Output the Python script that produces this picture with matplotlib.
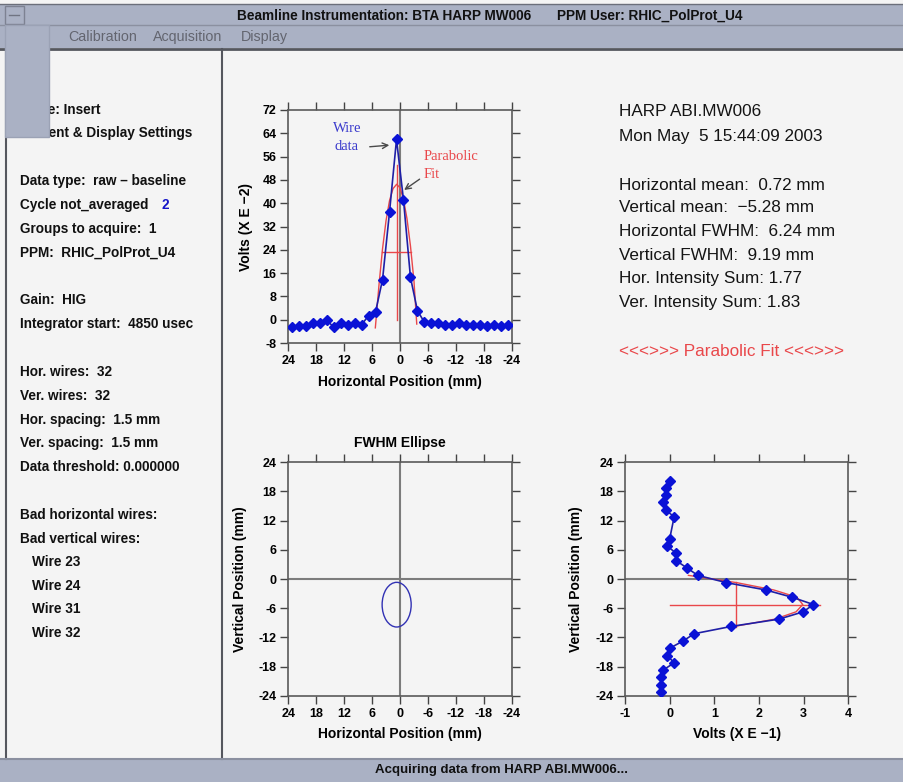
import matplotlib
matplotlib.use('Agg')
import matplotlib.pyplot as plt
from matplotlib.patches import Rectangle, Ellipse

plt.rcParams['font.family'] = ['Liberation Sans', 'DejaVu Sans']
plt.rcParams['axes.unicode_minus'] = False

# ---------------- data ----------------
# horizontal wire positions (mm) and signal (Volts x E-2)
h_pos = [23.25, 21.75, 20.25, 18.75, 17.25, 15.75, 14.25, 12.75, 11.25, 9.75,
         8.25, 6.75, 5.25, 3.75, 2.25, 0.75, -0.75, -2.25, -3.75, -5.25,
         -6.75, -8.25, -9.75, -11.25, -12.75, -14.25, -15.75, -17.25, -18.75,
         -20.25, -21.75, -23.25]
h_volts = [-2.6, -2.1, -2.1, -1.1, -1.1, -0.1, -2.6, -1.1, -1.7, -1.1,
           -1.7, 1.4, 2.7, 13.8, 37.0, 61.9, 41.1, 14.5, 3.1, -0.9,
           -1.1, -1.1, -1.7, -1.7, -1.1, -1.7, -1.7, -1.7, -2.1,
           -1.7, -2.1, -1.7]
# parabolic fit (horizontal)
h_fit_pos = [5.3, 4.5, 3.75, 3.0, 2.25, 1.5, 0.72, 0.0, -0.75, -1.5, -2.25, -3.0, -3.6]
h_fit_volts = [-2.8, 12.2, 24.4, 34.0, 40.9, 45.0, 46.5, 45.3, 41.3, 34.7, 25.3, 13.3, -1.5]
h_mean = 0.72
h_fwhm = 6.24
h_peak = 46.5
h_mean_line_top = 53.0

# vertical wire positions (mm) and signal (Volts x E-1); bad wires 23,24,31,32 omitted
v_pos = [20.25, 18.75, 17.25, 15.75, 14.25, 12.75, 8.25, 6.75, 5.25, 3.75,
         2.25, 0.75, -0.75, -2.25, -3.75, -5.25, -6.75, -8.25, -9.75, -11.25,
         -12.75, -14.25, -15.75, -17.25, -18.75, -20.25, -21.75, -23.25]
v_volts = [0.0, -0.09, -0.09, -0.15, -0.09, 0.10, 0.0, -0.05, 0.15, 0.15,
           0.39, 0.63, 1.27, 2.15, 2.74, 3.22, 2.99, 2.45, 1.38, 0.55,
           0.30, 0.0, -0.05, 0.10, -0.15, -0.20, -0.20, -0.20]
v_fit_pos = [0.75, -0.75, -2.25, -3.75, -5.25, -6.75, -8.25, -9.75]
v_fit_volts = [0.42, 1.50, 2.33, 2.85, 2.98, 2.83, 2.36, 1.45]
v_mean = -5.28
v_fwhm = 9.19
v_peak = 2.98
v_mean_line_end = 3.37

h_ticks = [24, 18, 12, 6, 0, -6, -12, -18, -24]
top_yticks = [-8, 0, 8, 16, 24, 32, 40, 48, 56, 64, 72]
pos_ticks = [-24, -18, -12, -6, 0, 6, 12, 18, 24]
volt_ticks = [-1, 0, 1, 2, 3, 4]

left_lines = [
    (110, "Mode: Insert"),
    (133, "Current & Display Settings"),
    (181, "Data type:  raw \u2013 baseline"),
    (205, "Cycle not_averaged"),
    (229, "Groups to acquire:  1"),
    (253, "PPM:  RHIC_PolProt_U4"),
    (300, "Gain:  HIG"),
    (324, "Integrator start:  4850 usec"),
    (372, "Hor. wires:  32"),
    (396, "Ver. wires:  32"),
    (420, "Hor. spacing:  1.5 mm"),
    (443, "Ver. spacing:  1.5 mm"),
    (467, "Data threshold: 0.000000"),
    (515, "Bad horizontal wires:"),
    (539, "Bad vertical wires:"),
]
bad_wires = ["Wire 23", "Wire 24", "Wire 31", "Wire 32"]
right_lines = [
    (112, "HARP ABI.MW006"),
    (137, "Mon May  5 15:44:09 2003"),
    (185, "Horizontal mean:  0.72 mm"),
    (208, "Vertical mean:  \u22125.28 mm"),
    (232, "Horizontal FWHM:  6.24 mm"),
    (256, "Vertical FWHM:  9.19 mm"),
    (279, "Hor. Intensity Sum: 1.77"),
    (303, "Ver. Intensity Sum: 1.83"),
]

# ---------------- figure ----------------
W, H = 904, 782
BG = '#f4f4f4'
BAR = '#aab1c4'
DARK = '#55575e'
BLUE_M = '#0a12d6'
BLUE_L = '#1f1fa6'
RED = '#e9474a'
GRAY = '#7c7c7c'
LABEL_FS = 10

fig = plt.figure(figsize=(W / 100, H / 100), dpi=100, facecolor=BG)
bg = fig.add_axes([0, 0, 1, 1], zorder=-5)
bg.set_xlim(0, W)
bg.set_ylim(H, 0)
bg.axis('off')

# title bar + menu bar
bg.add_patch(Rectangle((0, 4), W, 44, facecolor=BAR, edgecolor='none'))
bg.plot([0, W], [4, 4], color='#6b6f7a', lw=1)
bg.plot([0, W], [25, 25], color='#8b90a0', lw=1)
bg.plot([0, W], [49, 49], color=DARK, lw=2)
bg.add_patch(Rectangle((5, 6), 19, 18, facecolor=BAR, edgecolor='#7d8292', lw=1))
bg.plot([9, 19], [15, 15], color='#707482', lw=1)
bg.text(237, 15.5, "Beamline Instrumentation: BTA HARP MW006", fontsize=9.8,
        fontweight='bold', ha='left', va='center', color='#111111')
bg.text(557, 15.5, "PPM User: RHIC_PolProt_U4", fontsize=9.8,
        fontweight='bold', ha='left', va='center', color='#111111')
for xm, m in [(68, "Calibration"), (153, "Acquisition"), (241, "Display")]:
    bg.text(xm, 37, m, fontsize=10.3, ha='left', va='center', color='#63656f')

# panel separators
bg.plot([6, 6], [49, 759], color=DARK, lw=1.5)
bg.plot([222, 222], [49, 759], color=DARK, lw=1.5)

# status bar
bg.add_patch(Rectangle((0, 759), W, H - 759, facecolor=BAR, edgecolor='none'))
bg.plot([0, W], [759, 759], color='#8b90a0', lw=1.5)
bg.text(502, 770, "Acquiring data from HARP ABI.MW006...", fontsize=9.5,
        fontweight='bold', ha='center', va='center', color='#111111')

# left panel text
for yy, t in left_lines:
    bg.text(20.5, yy, t, fontsize=9.8, fontweight='bold', ha='left', va='center',
            color='#111111')
bg.text(162, 205, "2", fontsize=9.8, fontweight='bold', ha='left', va='center',
        color='#1414c8')
for i, t in enumerate(bad_wires):
    bg.text(32, 562 + 23.7 * i, t, fontsize=9.8, fontweight='bold', ha='left',
            va='center', color='#111111')

# overlay block covering top-left
bg.add_patch(Rectangle((5, 25), 44, 112, facecolor=BAR, edgecolor='#9ba2b5',
                       lw=1, zorder=10))

# right panel text
for yy, t in right_lines:
    bg.text(619, yy, t, fontsize=12.3, ha='left', va='center', color='#141414')
bg.text(619, 352, "<<<>>> Parabolic Fit <<<>>>", fontsize=12.3, ha='left',
        va='center', color=RED)


def px_axes(l, r, t, b):
    return fig.add_axes([l / W, 1 - b / H, (r - l) / W, (b - t) / H])


def style(ax):
    ax.set_facecolor(BG)
    for s in ax.spines.values():
        s.set_color('#5a5a5a')
        s.set_linewidth(1.2)
    ax.tick_params(axis='both', which='both', direction='out', length=5.5,
                   width=1, color='#444444', labelsize=9, pad=3)
    ax.tick_params(axis='x', bottom=True, top=True, labelbottom=True,
                   labeltop=False)
    ax.tick_params(axis='y', left=True, right=True, labelleft=True,
                   labelright=False)
    for lab in ax.get_xticklabels() + ax.get_yticklabels():
        lab.set_fontweight('bold')


# ---- top: horizontal profile ----
ax1 = px_axes(288.3, 511.7, 110, 343)
ax1.set_xlim(24, -24)
ax1.set_ylim(-8, 72)
ax1.set_xticks(h_ticks)
ax1.set_yticks(top_yticks)
ax1.axvline(0, color=GRAY, lw=1.5, zorder=1)
ax1.plot(h_fit_pos, h_fit_volts, color=RED, lw=1, zorder=2)
ax1.plot([h_mean, h_mean], [0, h_mean_line_top], color=RED, lw=1, zorder=2)
ax1.plot([h_mean + h_fwhm / 2, h_mean - h_fwhm / 2], [h_peak / 2, h_peak / 2],
         color=RED, lw=1, zorder=2)
ax1.plot(h_pos, h_volts, color=BLUE_L, lw=1.2, marker='D', ms=4.7,
         mfc=BLUE_M, mec=BLUE_M, zorder=3)
style(ax1)
ax1.set_xlabel("Horizontal Position (mm)", fontsize=LABEL_FS, fontweight='bold')
ax1.set_ylabel("Volts (X E \u22122)", fontsize=LABEL_FS, fontweight='bold')
ax1.xaxis.set_label_coords(0.5, -0.137)
ax1.yaxis.set_label_coords(-0.157, 0.5)
ax1.text(11.4, 65.7, "Wire", family='Liberation Serif', fontsize=10.5,
         color='#3a3acc', ha='center', va='center')
ax1.text(11.4, 59.4, "data", family='Liberation Serif', fontsize=10.5,
         color='#3a3acc', ha='center', va='center')
ax1.annotate("", xy=(1.7, 60.0), xytext=(7.1, 59.3),
             arrowprops=dict(arrowstyle='->', color='#4a4a4a', lw=1))
ax1.text(-5.0, 56.2, "Parabolic", family='Liberation Serif', fontsize=10.5,
         color=RED, ha='left', va='center')
ax1.text(-5.0, 50.0, "Fit", family='Liberation Serif', fontsize=10.5,
         color=RED, ha='left', va='center')
ax1.annotate("", xy=(-0.4, 44.0), xytext=(-4.7, 48.8),
             arrowprops=dict(arrowstyle='->', color='#4a4a4a', lw=1))

# ---- bottom left: FWHM ellipse ----
ax2 = px_axes(288.3, 511.7, 462.3, 695.7)
ax2.set_xlim(24, -24)
ax2.set_ylim(-24, 24)
ax2.set_xticks(h_ticks)
ax2.set_yticks(pos_ticks)
ax2.axvline(0, color=GRAY, lw=1.5, zorder=1)
ax2.axhline(0, color=GRAY, lw=1.5, zorder=1)
ax2.add_patch(Ellipse((h_mean, v_mean), width=h_fwhm, height=v_fwhm,
                      facecolor='none', edgecolor='#3232b4', lw=1, zorder=3))
style(ax2)
ax2.set_xlabel("Horizontal Position (mm)", fontsize=LABEL_FS, fontweight='bold')
ax2.set_ylabel("Vertical Position (mm)", fontsize=LABEL_FS, fontweight='bold')
ax2.xaxis.set_label_coords(0.5, -0.134)
ax2.yaxis.set_label_coords(-0.186, 0.5)
ax2.text(0.5, 1.083, "FWHM Ellipse", transform=ax2.transAxes, fontsize=LABEL_FS,
         fontweight='bold', ha='center', va='center')

# ---- bottom right: vertical profile ----
ax3 = px_axes(625, 848.3, 462.3, 695.7)
ax3.set_xlim(-1, 4)
ax3.set_ylim(-24, 24)
ax3.set_xticks(volt_ticks)
ax3.set_yticks(pos_ticks)
ax3.axhline(0, color=GRAY, lw=1.5, zorder=1)
ax3.plot(v_fit_volts, v_fit_pos, color=RED, lw=1, zorder=2)
ax3.plot([0, v_mean_line_end], [v_mean, v_mean], color=RED, lw=1, zorder=2)
ax3.plot([v_peak / 2, v_peak / 2], [v_mean + v_fwhm / 2, v_mean - v_fwhm / 2],
         color=RED, lw=1, zorder=2)
ax3.plot(v_volts, v_pos, color=BLUE_L, lw=1.2, marker='D', ms=4.7,
         mfc=BLUE_M, mec=BLUE_M, zorder=3)
style(ax3)
ax3.set_xlabel("Volts (X E \u22121)", fontsize=LABEL_FS, fontweight='bold')
ax3.set_ylabel("Vertical Position (mm)", fontsize=LABEL_FS, fontweight='bold')
ax3.xaxis.set_label_coords(0.5, -0.134)
ax3.yaxis.set_label_coords(-0.187, 0.5)

fig.savefig('out.png', dpi=100, facecolor=BG)
